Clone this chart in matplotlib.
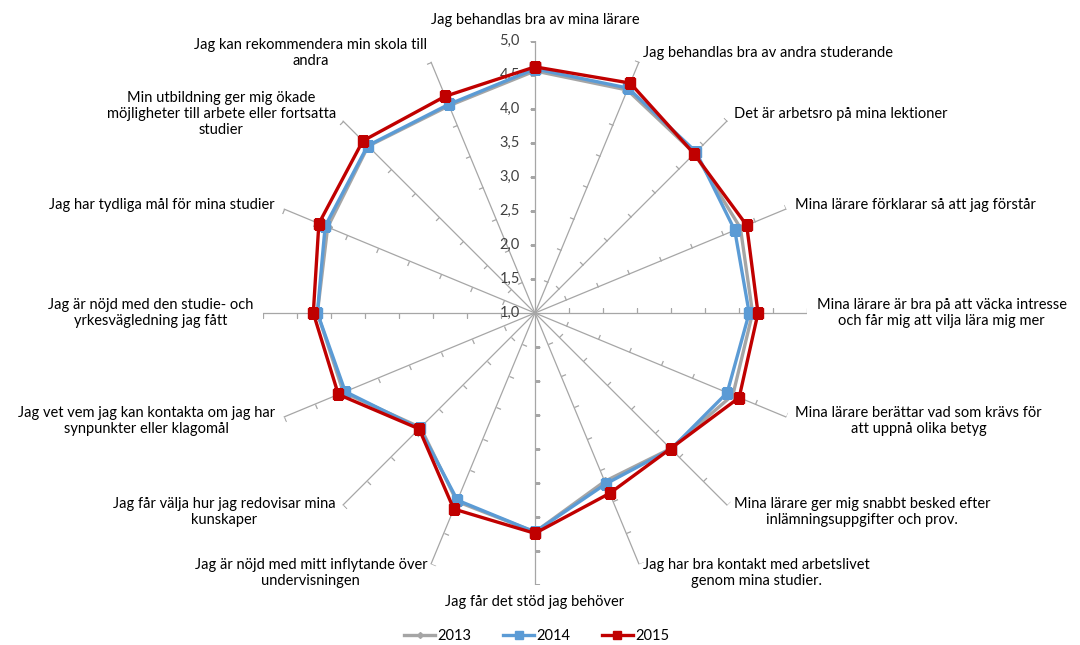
import numpy as np
import matplotlib.pyplot as plt
from matplotlib.markers import MarkerStyle
from matplotlib.path import Path
from matplotlib.transforms import Affine2D

# -------------------------------------------------------------------
# Data
# -------------------------------------------------------------------
categories = [
    "Jag behandlas bra av mina lärare",
    "Jag behandlas bra av andra studerande",
    "Det är arbetsro på mina lektioner",
    "Mina lärare förklarar så att jag förstår",
    "Mina lärare är bra på att väcka intresse\noch får mig att vilja lära mig mer",
    "Mina lärare berättar vad som krävs för\natt uppnå olika betyg",
    "Mina lärare ger mig snabbt besked efter\ninlämningsuppgifter och prov.",
    "Jag har bra kontakt med arbetslivet\ngenom mina studier.",
    "Jag får det stöd jag behöver",
    "Jag är nöjd med mitt inflytande över\nundervisningen",
    "Jag får välja hur jag redovisar mina\nkunskaper",
    "Jag vet vem jag kan kontakta om jag har\nsynpunkter eller klagomål",
    "Jag är nöjd med den studie- och\nyrkesvägledning jag fått",
    "Jag har tydliga mål för mina studier",
    "Min utbildning ger mig ökade\nmöjligheter till arbete eller fortsatta\nstudier",
    "Jag kan rekommendera min skola till\nandra",
]

v2013 = [4.56, 4.55, 4.32, 4.27, 4.20, 4.15, 3.82, 3.68,
         4.22, 4.00, 3.38, 4.05, 4.20, 4.30, 4.47, 4.30]
v2014 = [4.59, 4.58, 4.35, 4.18, 4.15, 4.06, 3.83, 3.72,
         4.22, 3.98, 3.40, 4.02, 4.20, 4.34, 4.48, 4.32]
v2015 = [4.62, 4.66, 4.31, 4.37, 4.28, 4.25, 3.82, 3.87,
         4.24, 4.12, 3.41, 4.13, 4.26, 4.44, 4.58, 4.45]

r_ticks = [1.0, 1.5, 2.0, 2.5, 3.0, 3.5, 4.0, 4.5, 5.0]
r_labels = ["1,0", "1,5", "2,0", "2,5", "3,0", "3,5", "4,0", "4,5", "5,0"]

series = [
    ("2013", v2013, "#A5A5A5", "D", 4),
    ("2014", v2014, "#5B9BD5", "s", 7),
    ("2015", v2015, "#C00000", "s", 7),
]

plt.rcParams["font.family"] = ["Lato", "DejaVu Sans"]

# -------------------------------------------------------------------
# Figure
# -------------------------------------------------------------------
fig = plt.figure(figsize=(10.8, 6.45), dpi=100)
ax = fig.add_axes([0.2435, 0.093, 0.5037, 0.8434], projection="polar")
ax.set_theta_zero_location("N")
ax.set_theta_direction(-1)
ax.set_ylim(1, 5)
ax.grid(False)
ax.spines["polar"].set_visible(False)
ax.set_xticks([])
ax.set_yticks([])
ax.patch.set_alpha(0)

n = len(categories)
angles = np.arange(n) * 2 * np.pi / n
grey = "#A6A6A6"

# spokes with one-sided tick marks
tick_path = Path([(0, 0), (1, 0)], [Path.MOVETO, Path.LINETO])
for a in angles:
    ax.plot([a, a], [1, 5], color=grey, lw=0.9, zorder=1)
    rot = 180 - np.degrees(a)
    mk = MarkerStyle(tick_path, transform=Affine2D().rotate_deg(rot))
    ax.plot([a] * (len(r_ticks) - 1), r_ticks[1:], linestyle="none",
            marker=mk, markersize=7, markeredgewidth=0.9,
            markeredgecolor=grey, markerfacecolor="none", zorder=1)

# radial value labels along the top spoke
for r, lab in zip(r_ticks, r_labels):
    ax.annotate(lab, xy=(0, r), xytext=(-11, 0), textcoords="offset points",
                ha="right", va="center", fontsize=10.5, color="#404040")

# series
closed = np.append(angles, angles[0])
for z, (name, vals, col, mkr, ms) in enumerate(series):
    ax.plot(closed, vals + vals[:1], color=col, lw=2.4, marker=mkr,
            markersize=ms, label=name, zorder=3 + z)

# category labels
for a, lab in zip(angles, categories):
    s, c = np.sin(a), np.cos(a)
    if s > 0.1:
        ha = "left"
    elif s < -0.1:
        ha = "right"
    else:
        ha = "center"
    off = 7
    if abs(s) < 0.1:
        va = "bottom" if c > 0 else "top"
        off = 10 if c > 0 else 7
    else:
        va = "center"
    ax.annotate(lab, xy=(a, 5), xytext=(off * s, off * c), textcoords="offset points",
                ha=ha, va=va, fontsize=10.5, color="#000000",
                multialignment="center", annotation_clip=False)

fig.legend(loc="center", bbox_to_anchor=(0.497, 0.014), ncol=3, frameon=False,
           fontsize=10.5, handlelength=2.1, columnspacing=2.2, handletextpad=0.15,
           markerscale=0.75)

fig.savefig("out.png", dpi=100)
